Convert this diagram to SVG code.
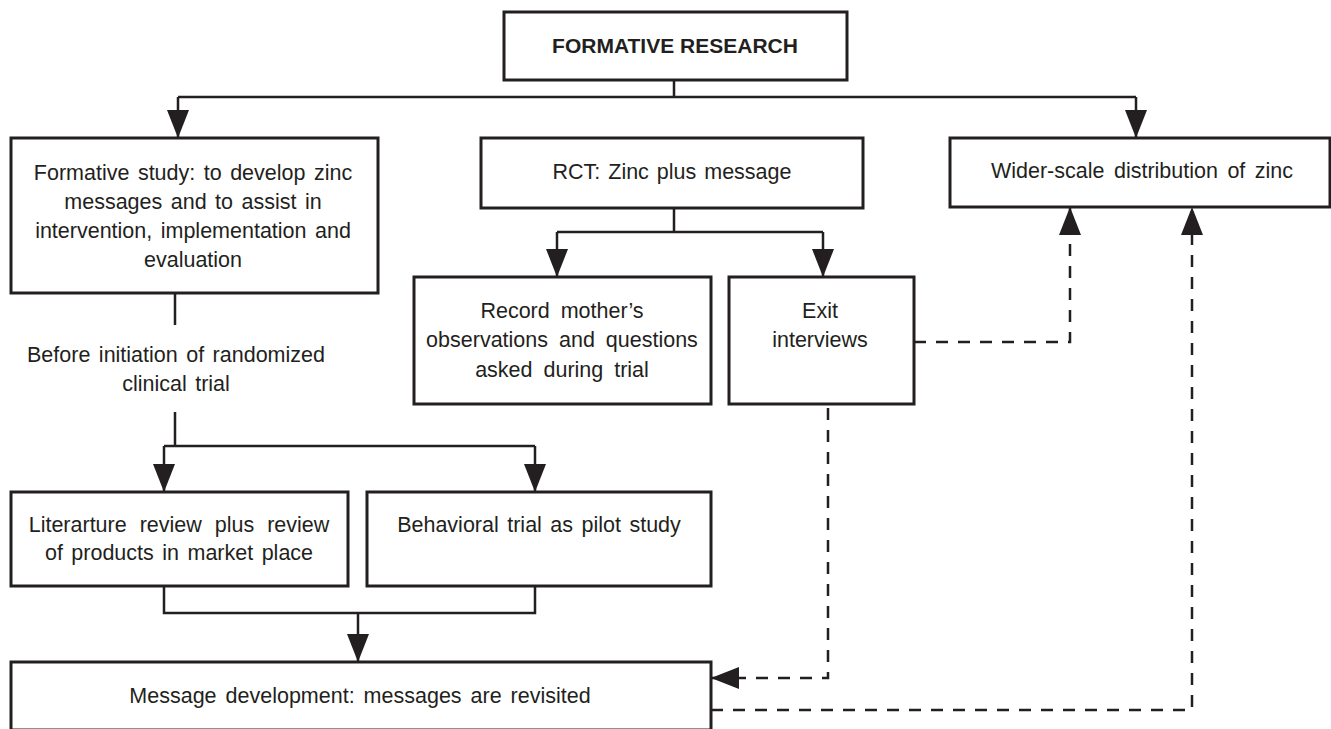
<svg xmlns="http://www.w3.org/2000/svg" width="1331" height="729" viewBox="0 0 1331 729">
<style>
.box{fill:#fff;stroke:#231f20;stroke-width:3}
.t{font-family:"Liberation Sans",Arial,sans-serif;font-size:21.5px;fill:#231f20;text-anchor:middle;word-spacing:2.5px}
.b{font-weight:bold;font-size:21px;word-spacing:0}
.ln{fill:none;stroke:#231f20;stroke-width:2.5}
.d{stroke-dasharray:12 10}
</style>
<defs>
<marker id="ah" markerUnits="userSpaceOnUse" markerWidth="28" markerHeight="22" refX="28" refY="11" orient="auto" viewBox="0 0 28 22">
<path d="M0,0 L28,11 L0,22 z" fill="#231f20"/>
</marker>
</defs>
<g id="connectors">
<path class="ln" d="M674,80 V97 M178,97 H1136"/>
<path class="ln" d="M178,97 V138" marker-end="url(#ah)"/>
<path class="ln" d="M1136,97 V138" marker-end="url(#ah)"/>
<path class="ln" d="M674,208 V232 M557,232 H823"/>
<path class="ln" d="M557,232 V277" marker-end="url(#ah)"/>
<path class="ln" d="M823,232 V277" marker-end="url(#ah)"/>
<path class="ln" d="M175,293 V325 M175,412 V446 M164,446 H535"/>
<path class="ln" d="M164,446 V492" marker-end="url(#ah)"/>
<path class="ln" d="M535,446 V492" marker-end="url(#ah)"/>
<path class="ln" d="M164,586 V613 H535 V586"/>
<path class="ln" d="M358,613 V662" marker-end="url(#ah)"/>
<path class="ln d" d="M914,342 H1070 V207" marker-end="url(#ah)"/>
<path class="ln d" d="M828,408 V678 H711" marker-end="url(#ah)"/>
<path class="ln d" d="M711,710 H1192 V207" marker-end="url(#ah)"/>
</g>
<g id="formative-research">
<rect class="box" x="504" y="12" width="343" height="68"/>
<text class="t b" x="675" y="53">FORMATIVE RESEARCH</text>
</g>
<g id="formative-study">
<rect class="box" x="11" y="138" width="367" height="155"/>
<text class="t" x="193" y="180">Formative study: to develop zinc</text>
<text class="t" x="193" y="209">messages and to assist in</text>
<text class="t" x="193" y="238">intervention, implementation and</text>
<text class="t" x="193" y="267">evaluation</text>
</g>
<g id="before-label">
<text class="t" x="176" y="362">Before initiation of randomized</text>
<text class="t" x="176" y="391">clinical trial</text>
</g>
<g id="rct">
<rect class="box" x="481" y="138" width="382" height="70"/>
<text class="t" x="672" y="179" style="word-spacing:2px">RCT: Zinc plus message</text>
</g>
<g id="wider">
<rect class="box" x="950" y="138" width="380" height="69"/>
<text class="t" x="1142" y="178" style="word-spacing:3.5px">Wider-scale distribution of zinc</text>
</g>
<g id="record">
<rect class="box" x="414" y="277" width="297" height="127"/>
<text class="t" x="562" y="318" style="word-spacing:5px">Record mother’s</text>
<text class="t" x="562" y="347" style="word-spacing:5px">observations and questions</text>
<text class="t" x="562" y="377" style="word-spacing:5px">asked during trial</text>
</g>
<g id="exit">
<rect class="box" x="729" y="277" width="185" height="127"/>
<text class="t" x="820" y="318">Exit</text>
<text class="t" x="820" y="347">interviews</text>
</g>
<g id="literature">
<rect class="box" x="11" y="492" width="337" height="94"/>
<text class="t" x="179" y="532" style="word-spacing:7px">Literarture review plus review</text>
<text class="t" x="179" y="560">of products in market place</text>
</g>
<g id="behavioral">
<rect class="box" x="367" y="492" width="344" height="94"/>
<text class="t" x="539" y="532">Behavioral trial as pilot study</text>
</g>
<g id="message">
<rect class="box" x="11" y="662" width="700" height="68"/>
<text class="t" x="360" y="703" style="word-spacing:3px">Message development: messages are revisited</text>
</g>
</svg>
